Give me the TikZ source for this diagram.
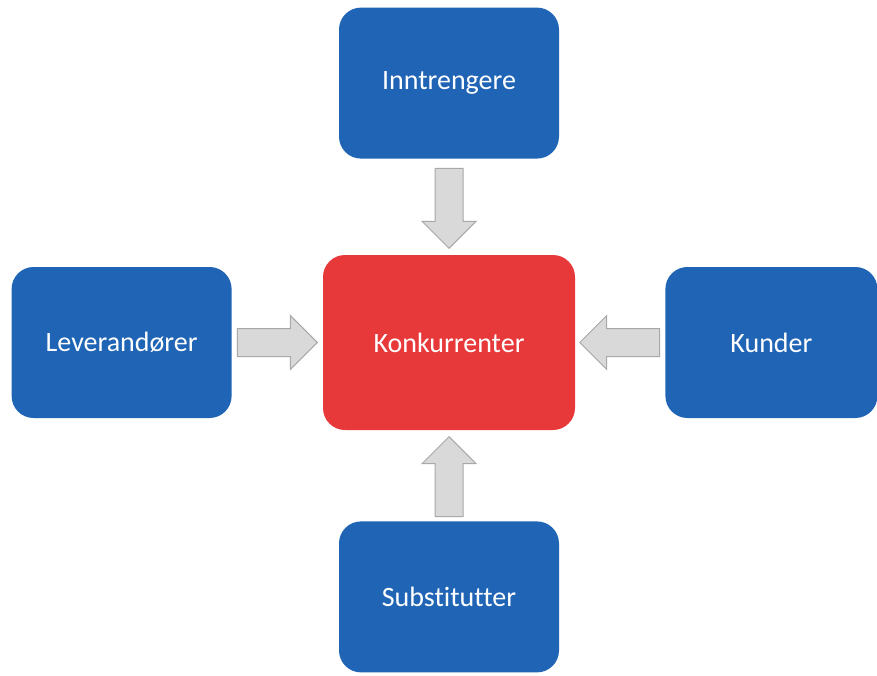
\documentclass[tikz,border=0pt]{standalone}
\usepackage{fontspec}
\setmainfont{Carlito}[Ligatures=NoCommon]
\usepackage{xcolor}
\usepackage{tikz}
\usetikzlibrary{shapes.arrows, positioning, calc}
\definecolor{boxblue}{HTML}{1F64B5}
\definecolor{boxred}{HTML}{E8393A}
\definecolor{pushfill}{HTML}{D9D9D9}
\definecolor{pushline}{HTML}{A8A8A8}
\tikzstyle{actor} = [rectangle, rounded corners=22pt, minimum width=220pt, minimum height=151pt, text centered, fill=boxblue, text=white, font=\fontsize{28}{34}\selectfont]
\tikzstyle{rival} = [actor, minimum width=252pt, minimum height=175pt, fill=boxred]
\tikzstyle{push} = [single arrow, single arrow head extend=13pt, minimum height=80pt, inner sep=13.5pt, fill=pushfill, draw=pushline, line width=1pt, anchor=tail]

\begin{document}
\begin{tikzpicture}[x=1pt, y=1pt]
		\useasboundingbox (0,0) rectangle (877,-676);
		\node (Konkurrenter)[rival] at (449,-342.5) {Konkurrenter};
		\node (Inntrengere)[actor, above = 96pt of Konkurrenter]{Inntrengere};
		\node (Leverandorer)[actor, left = 91pt of Konkurrenter]{Leverandører};
		\node (Kunder)[actor, minimum width=212pt, right = 90pt of Konkurrenter]{Kunder};
		\node (Substitutter)[actor, below = 91pt of Konkurrenter]{Substitutter};
		\node (Push Inn)[push, shape border rotate=270] at ($(Inntrengere.south)+(0,-9)$) {};
		\node (Push Lev)[push] at ($(Leverandorer.east)+(5,0)$) {};
		\node (Push Kun)[push, shape border rotate=180] at ($(Kunder.west)+(-5,0)$) {};
		\node (Push Sub)[push, shape border rotate=90] at ($(Substitutter.north)+(0,4)$) {};
	\end{tikzpicture}
\end{document}
